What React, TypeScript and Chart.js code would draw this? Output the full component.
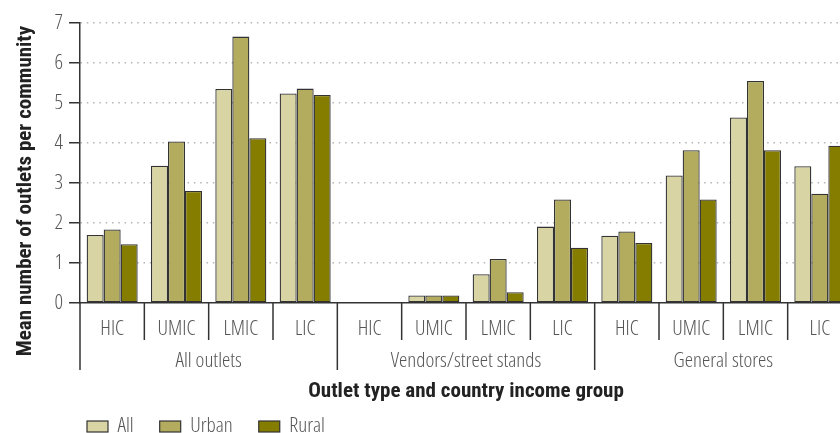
import React, { useEffect, useRef } from "react";
import { Chart, registerables } from "chart.js";

Chart.register(...registerables);

const incomeGroups = ["HIC", "UMIC", "LMIC", "LIC"];
const outletTypes = ["All outlets", "Vendors/street stands", "General stores"];
const categories = outletTypes.flatMap(() => incomeGroups);

const seriesNames = ["All", "Urban", "Rural"];
const seriesColors = ["#d9d4a4", "#b3ac5f", "#857d00"];

const allValues = [1.7, 3.43, 5.35, 5.24, null, 0.19, 0.72, 1.91, 1.68, 3.19, 4.64, 3.42];
const urbanValues = [1.84, 4.04, 6.66, 5.36, null, 0.19, 1.1, 2.59, 1.79, 3.82, 5.55, 2.73];
const ruralValues = [1.47, 2.8, 4.12, 5.2, null, 0.19, 0.27, 1.38, 1.5, 2.59, 3.82, 3.93];

const yMin = 0;
const yMax = 7;
const yStep = 1;

const xTitle = "Outlet type and country income group";
const yTitle = "Mean number of outlets per community";

type FontChoice = { family: string; weight: string; size: number };

const families = ["'Liberation Sans Narrow'", "'Noto Sans'", "'Open Sans'", "Roboto", "Inter", "'DejaVu Sans Condensed'", "'DejaVu Sans'"];
const stretches = ["", "semi-condensed", "condensed", "extra-condensed"];

function pickFont(sample: string, targetWidth: number, capTarget: number, weightWord: string): FontChoice {
  const ctx = document.createElement("canvas").getContext("2d") as CanvasRenderingContext2D;
  ctx.font = "100px monospace";
  const mono = ctx.measureText(sample).width;
  let best: FontChoice = { family: "'DejaVu Sans Condensed'", weight: weightWord, size: 17 };
  let bestErr = Infinity;
  for (const fam of families) {
    ctx.font = `100px ${fam}, monospace`;
    const plain = ctx.measureText(sample).width;
    if (Math.abs(plain - mono) < 0.01) continue;
    for (const st of stretches) {
      const weight = `${st} ${weightWord}`.trim();
      ctx.font = `${weight} 100px ${fam}, monospace`;
      const w = ctx.measureText(sample).width;
      const cap = ctx.measureText("H").actualBoundingBoxAscent || 72;
      const size = (capTarget * 100) / cap;
      const width = (w * size) / 100;
      const err = Math.abs(width - targetWidth);
      if (err < bestErr) {
        bestErr = err;
        best = { family: fam, weight, size: Math.round(size * 2) / 2 };
      }
    }
  }
  return best;
}

const fstr = (f: FontChoice) => `${f.weight} ${f.size}px ${f.family}`;

function makeGroupPlugin(font: FontChoice, bold: FontChoice) {
  return {
    id: "groupPlugin",
    afterDraw(chart: any) {
      const { ctx, chartArea } = chart;
      const x = chart.scales.x;
      const n = categories.length;
      const step = x.getPixelForValue(1) - x.getPixelForValue(0);
      const start = x.getPixelForValue(0) - step / 2;
      ctx.save();
      ctx.strokeStyle = "#333";
      ctx.lineWidth = 1.5;
      for (let i = 0; i <= n; i++) {
        const px = start + i * step;
        const isGroup = i % incomeGroups.length === 0;
        ctx.beginPath();
        ctx.moveTo(px, chartArea.bottom);
        ctx.lineTo(px, chartArea.bottom + (isGroup ? 67 : 37));
        ctx.stroke();
      }
      ctx.fillStyle = "#555";
      ctx.font = fstr(font);
      ctx.textAlign = "center";
      ctx.textBaseline = "middle";
      outletTypes.forEach((name, g) => {
        const cx = start + (g * incomeGroups.length + incomeGroups.length / 2) * step;
        ctx.fillText(name, cx, chartArea.bottom + 58);
      });
      // y-axis title, centred on the whole axis column
      ctx.save();
      ctx.translate(31, 191);
      ctx.rotate(-Math.PI / 2);
      ctx.font = fstr(bold);
      ctx.fillStyle = "#222";
      ctx.textAlign = "center";
      ctx.textBaseline = "alphabetic";
      ctx.fillText(yTitle, 0, 0);
      ctx.restore();
      // legend
      let lx = 87;
      const ly = 426;
      ctx.textAlign = "left";
      ctx.textBaseline = "middle";
      ctx.font = fstr(font);
      seriesNames.forEach((name, i) => {
        ctx.fillStyle = seriesColors[i];
        ctx.fillRect(lx, ly - 5, 21, 11);
        ctx.strokeStyle = "#333";
        ctx.lineWidth = 1.2;
        ctx.strokeRect(lx, ly - 5, 21, 11);
        ctx.fillStyle = "#555";
        ctx.fillText(name, lx + 21 + 9.5, ly);
        lx += 21 + 9.5 + ctx.measureText(name).width + 26;
      });
      ctx.restore();
    },
  };
}

export default function App() {
  const ref = useRef<HTMLCanvasElement>(null);
  useEffect(() => {
    const reg = pickFont("All outlets", 67, 14.8, "300");
    const bold = pickFont(xTitle, 317, 15, "bold");
    const values = [allValues, urbanValues, ruralValues];
    const chart = new Chart(ref.current as HTMLCanvasElement, {
      type: "bar",
      data: {
        labels: categories,
        datasets: seriesNames.map((name, i) => ({
          label: name,
          data: values[i],
          backgroundColor: seriesColors[i],
          borderColor: "#333",
          borderWidth: 1.3,
          borderSkipped: false,
          categoryPercentage: 0.793,
          barPercentage: 1,
        })),
      },
      options: {
        responsive: false,
        animation: false,
        layout: { padding: { top: 23, left: 0, right: 0, bottom: 0 } },
        plugins: { legend: { display: false }, tooltip: { enabled: false } },
        scales: {
          x: {
            ticks: {
              color: "#555",
              font: { size: reg.size, family: reg.family, weight: reg.weight },
              padding: 26 - 0.6 * reg.size,
              autoSkip: false,
              maxRotation: 0,
            },
            grid: { display: false, drawTicks: false },
            border: { display: true, color: "#333", width: 1.5 },
            title: {
              display: true,
              text: xTitle,
              color: "#222",
              font: { size: bold.size, weight: bold.weight, family: bold.family },
              padding: { top: 0, bottom: 41 - 0.6 * bold.size },
            },
            afterFit: (s: any) => {
              s.height = 130;
            },
          },
          y: {
            min: yMin,
            max: yMax,
            ticks: {
              stepSize: yStep,
              color: "#555",
              font: { size: reg.size, family: reg.family, weight: reg.weight },
              padding: 6,
            },
            grid: {
              color: (c: any) => (c.tick && c.tick.value === 0 ? "rgba(0,0,0,0)" : "#b5b5b5"),
              lineWidth: 1.5,
              tickColor: "#333",
              tickLength: 11,
              tickWidth: 1.5,
              drawTicks: true,
            },
            border: { display: true, color: "#333", width: 1.5, dash: [1.5, 4.8] },
            title: { display: false, text: yTitle },
            afterFit: (s: any) => {
              s.width = 80;
            },
          },
        },
      },
      plugins: [makeGroupPlugin(reg, bold)],
    } as any);
    return () => chart.destroy();
  }, []);
  return (
    <div style={{ position: "fixed", left: 0, top: 0, width: 840, height: 433, overflow: "hidden", background: "#fff" }}>
      <canvas ref={ref} width={852} height={433} style={{ display: "block", width: 852, height: 433 }} />
    </div>
  );
}
